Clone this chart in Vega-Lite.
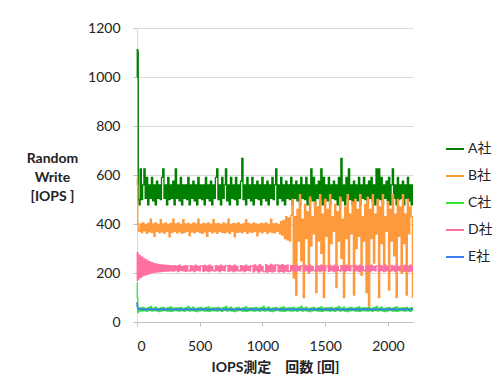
{
 "$schema": "https://vega.github.io/schema/vega-lite/v6.json",
 "width": 276, "height": 294,
 "autosize": {"type": "none"},
 "padding": {"left": 137, "top": 28, "right": 79, "bottom": 63},
 "background": "white",
 "config": {"view": {"stroke": null}, "font": "Lato, Noto Sans CJK JP"},
 "data": {"values": [
{"x":0,"A":1000,"B":590,"C":160,"D":285,"E":80},
{"x":4,"A":1112,"B":560,"C":100,"D":170,"E":62},
{"x":8,"A":1105,"B":400,"C":38,"D":280,"E":55},
{"x":12,"A":500,"B":375,"C":42,"D":175,"E":53},
{"x":20,"A":478,"B":370,"C":46,"D":272,"E":55},
{"x":30,"A":625,"B":400,"C":58,"D":182,"E":52},
{"x":40,"A":500,"B":365,"C":44,"D":265,"E":53},
{"x":50,"A":560,"B":405,"C":60,"D":188,"E":51},
{"x":60,"A":625,"B":372,"C":47,"D":258,"E":52},
{"x":70,"A":505,"B":398,"C":56,"D":192,"E":50},
{"x":80,"A":590,"B":362,"C":43,"D":252,"E":51},
{"x":90,"A":478,"B":402,"C":59,"D":196,"E":53},
{"x":100,"A":560,"B":368,"C":48,"D":246,"E":50},
{"x":110,"A":505,"B":420,"C":64,"D":200,"E":52},
{"x":120,"A":590,"B":366,"C":45,"D":242,"E":52},
{"x":130,"A":495,"B":400,"C":57,"D":202,"E":50},
{"x":140,"A":560,"B":350,"C":47,"D":238,"E":53},
{"x":150,"A":478,"B":404,"C":61,"D":204,"E":51},
{"x":160,"A":575,"B":370,"C":44,"D":236,"E":52},
{"x":170,"A":505,"B":398,"C":55,"D":205,"E":50},
{"x":180,"A":560,"B":364,"C":42,"D":234,"E":51},
{"x":190,"A":500,"B":418,"C":58,"D":206,"E":53},
{"x":200,"A":590,"B":368,"C":46,"D":233,"E":50},
{"x":210,"A":625,"B":400,"C":60,"D":207,"E":52},
{"x":220,"A":505,"B":362,"C":48,"D":232,"E":52},
{"x":230,"A":560,"B":405,"C":56,"D":208,"E":50},
{"x":240,"A":478,"B":370,"C":44,"D":231,"E":53},
{"x":250,"A":590,"B":398,"C":59,"D":208,"E":51},
{"x":260,"A":500,"B":348,"C":45,"D":230,"E":52},
{"x":270,"A":560,"B":402,"C":62,"D":209,"E":50},
{"x":280,"A":505,"B":366,"C":43,"D":229,"E":51},
{"x":290,"A":575,"B":420,"C":57,"D":208,"E":53},
{"x":300,"A":478,"B":370,"C":47,"D":230,"E":50},
{"x":310,"A":625,"B":400,"C":58,"D":210,"E":52},
{"x":320,"A":505,"B":364,"C":46,"D":228,"E":52},
{"x":330,"A":560,"B":404,"C":58,"D":206,"E":50},
{"x":340,"A":495,"B":368,"C":44,"D":232,"E":53},
{"x":350,"A":590,"B":398,"C":60,"D":211,"E":51},
{"x":360,"A":478,"B":362,"C":47,"D":227,"E":52},
{"x":370,"A":560,"B":418,"C":56,"D":209,"E":50},
{"x":380,"A":505,"B":366,"C":43,"D":229,"E":51},
{"x":390,"A":560,"B":400,"C":59,"D":207,"E":53},
{"x":400,"A":500,"B":370,"C":48,"D":230,"E":50},
{"x":410,"A":590,"B":402,"C":64,"D":210,"E":52},
{"x":420,"A":478,"B":352,"C":45,"D":208,"E":52},
{"x":430,"A":560,"B":398,"C":57,"D":230,"E":50},
{"x":440,"A":505,"B":368,"C":47,"D":210,"E":53},
{"x":450,"A":575,"B":404,"C":61,"D":228,"E":51},
{"x":460,"A":495,"B":364,"C":44,"D":206,"E":52},
{"x":470,"A":560,"B":400,"C":55,"D":232,"E":50},
{"x":480,"A":478,"B":370,"C":42,"D":211,"E":51},
{"x":490,"A":590,"B":420,"C":58,"D":227,"E":53},
{"x":500,"A":505,"B":366,"C":46,"D":209,"E":50},
{"x":510,"A":560,"B":398,"C":60,"D":229,"E":52},
{"x":520,"A":500,"B":362,"C":48,"D":229,"E":52},
{"x":530,"A":560,"B":402,"C":56,"D":207,"E":50},
{"x":540,"A":478,"B":368,"C":44,"D":231,"E":53},
{"x":550,"A":590,"B":400,"C":59,"D":210,"E":51},
{"x":560,"A":505,"B":350,"C":45,"D":228,"E":52},
{"x":570,"A":560,"B":404,"C":62,"D":206,"E":50},
{"x":580,"A":495,"B":370,"C":43,"D":232,"E":51},
{"x":590,"A":575,"B":398,"C":57,"D":209,"E":53},
{"x":600,"A":478,"B":364,"C":47,"D":227,"E":50},
{"x":610,"A":560,"B":418,"C":58,"D":211,"E":52},
{"x":620,"A":505,"B":368,"C":46,"D":208,"E":52},
{"x":630,"A":590,"B":400,"C":58,"D":230,"E":50},
{"x":640,"A":625,"B":362,"C":44,"D":210,"E":53},
{"x":650,"A":500,"B":402,"C":60,"D":228,"E":51},
{"x":660,"A":560,"B":370,"C":47,"D":206,"E":52},
{"x":670,"A":478,"B":398,"C":56,"D":232,"E":50},
{"x":680,"A":590,"B":366,"C":43,"D":211,"E":51},
{"x":690,"A":505,"B":404,"C":59,"D":227,"E":53},
{"x":700,"A":560,"B":364,"C":48,"D":209,"E":50},
{"x":710,"A":625,"B":400,"C":64,"D":229,"E":52},
{"x":720,"A":495,"B":368,"C":45,"D":229,"E":52},
{"x":730,"A":560,"B":420,"C":57,"D":207,"E":50},
{"x":740,"A":478,"B":362,"C":47,"D":231,"E":53},
{"x":750,"A":590,"B":398,"C":61,"D":210,"E":51},
{"x":760,"A":505,"B":370,"C":44,"D":228,"E":52},
{"x":770,"A":560,"B":402,"C":55,"D":206,"E":50},
{"x":780,"A":500,"B":348,"C":42,"D":232,"E":51},
{"x":790,"A":590,"B":400,"C":58,"D":209,"E":53},
{"x":800,"A":478,"B":366,"C":46,"D":227,"E":50},
{"x":810,"A":560,"B":404,"C":60,"D":211,"E":52},
{"x":820,"A":505,"B":368,"C":48,"D":208,"E":52},
{"x":830,"A":575,"B":398,"C":56,"D":230,"E":50},
{"x":840,"A":668,"B":364,"C":44,"D":210,"E":53},
{"x":850,"A":500,"B":400,"C":59,"D":228,"E":51},
{"x":860,"A":560,"B":370,"C":45,"D":206,"E":52},
{"x":870,"A":478,"B":418,"C":62,"D":232,"E":50},
{"x":880,"A":590,"B":362,"C":43,"D":211,"E":51},
{"x":890,"A":505,"B":402,"C":57,"D":227,"E":53},
{"x":900,"A":560,"B":368,"C":47,"D":209,"E":50},
{"x":910,"A":495,"B":398,"C":58,"D":229,"E":52},
{"x":920,"A":590,"B":366,"C":46,"D":229,"E":52},
{"x":930,"A":478,"B":404,"C":58,"D":205,"E":50},
{"x":940,"A":560,"B":370,"C":44,"D":233,"E":53},
{"x":950,"A":505,"B":400,"C":60,"D":210,"E":51},
{"x":960,"A":575,"B":352,"C":47,"D":228,"E":52},
{"x":970,"A":500,"B":398,"C":56,"D":204,"E":50},
{"x":980,"A":560,"B":368,"C":43,"D":234,"E":51},
{"x":990,"A":478,"B":402,"C":59,"D":209,"E":53},
{"x":1000,"A":590,"B":364,"C":48,"D":227,"E":50},
{"x":1010,"A":505,"B":400,"C":64,"D":206,"E":52},
{"x":1020,"A":560,"B":370,"C":45,"D":206,"E":52},
{"x":1030,"A":495,"B":404,"C":57,"D":234,"E":50},
{"x":1040,"A":575,"B":362,"C":47,"D":204,"E":53},
{"x":1050,"A":478,"B":398,"C":61,"D":230,"E":51},
{"x":1060,"A":560,"B":368,"C":44,"D":207,"E":52},
{"x":1070,"A":505,"B":420,"C":55,"D":235,"E":50},
{"x":1080,"A":590,"B":366,"C":42,"D":205,"E":51},
{"x":1090,"A":500,"B":400,"C":58,"D":231,"E":53},
{"x":1100,"A":560,"B":364,"C":46,"D":208,"E":50},
{"x":1110,"A":625,"B":402,"C":60,"D":233,"E":52},
{"x":1120,"A":478,"B":370,"C":48,"D":233,"E":52},
{"x":1130,"A":560,"B":398,"C":56,"D":205,"E":50},
{"x":1140,"A":505,"B":360,"C":44,"D":231,"E":53},
{"x":1150,"A":590,"B":410,"C":59,"D":207,"E":51},
{"x":1160,"A":495,"B":355,"C":45,"D":234,"E":52},
{"x":1170,"A":560,"B":415,"C":62,"D":204,"E":50},
{"x":1180,"A":478,"B":340,"C":43,"D":230,"E":51},
{"x":1190,"A":575,"B":430,"C":57,"D":208,"E":53},
{"x":1200,"A":505,"B":335,"C":47,"D":232,"E":50},
{"x":1210,"A":560,"B":425,"C":58,"D":206,"E":52},
{"x":1220,"A":500,"B":330,"C":46,"D":208,"E":52},
{"x":1230,"A":590,"B":435,"C":58,"D":230,"E":50},
{"x":1240,"A":478,"B":500,"C":44,"D":210,"E":53},
{"x":1250,"A":560,"B":180,"C":60,"D":228,"E":51},
{"x":1260,"A":505,"B":430,"C":47,"D":206,"E":52},
{"x":1270,"A":575,"B":110,"C":56,"D":232,"E":50},
{"x":1280,"A":495,"B":460,"C":43,"D":211,"E":51},
{"x":1290,"A":560,"B":330,"C":59,"D":227,"E":53},
{"x":1300,"A":478,"B":520,"C":48,"D":209,"E":50},
{"x":1310,"A":590,"B":250,"C":64,"D":229,"E":52},
{"x":1320,"A":505,"B":420,"C":45,"D":229,"E":52},
{"x":1330,"A":560,"B":100,"C":57,"D":207,"E":50},
{"x":1340,"A":500,"B":480,"C":47,"D":231,"E":53},
{"x":1350,"A":590,"B":340,"C":61,"D":210,"E":51},
{"x":1360,"A":478,"B":450,"C":44,"D":228,"E":52},
{"x":1370,"A":560,"B":200,"C":55,"D":206,"E":50},
{"x":1380,"A":505,"B":510,"C":42,"D":232,"E":51},
{"x":1390,"A":625,"B":310,"C":58,"D":209,"E":53},
{"x":1400,"A":495,"B":430,"C":46,"D":227,"E":50},
{"x":1410,"A":590,"B":360,"C":60,"D":211,"E":52},
{"x":1420,"A":478,"B":490,"C":48,"D":208,"E":52},
{"x":1430,"A":560,"B":120,"C":56,"D":230,"E":50},
{"x":1440,"A":505,"B":470,"C":44,"D":210,"E":53},
{"x":1450,"A":575,"B":330,"C":59,"D":228,"E":51},
{"x":1460,"A":500,"B":520,"C":45,"D":206,"E":52},
{"x":1470,"A":625,"B":280,"C":62,"D":232,"E":50},
{"x":1480,"A":478,"B":440,"C":43,"D":211,"E":51},
{"x":1490,"A":590,"B":100,"C":57,"D":227,"E":53},
{"x":1500,"A":505,"B":500,"C":47,"D":209,"E":50},
{"x":1510,"A":560,"B":350,"C":58,"D":229,"E":52},
{"x":1520,"A":495,"B":460,"C":46,"D":229,"E":52},
{"x":1530,"A":590,"B":220,"C":58,"D":207,"E":50},
{"x":1540,"A":478,"B":520,"C":44,"D":231,"E":53},
{"x":1550,"A":560,"B":320,"C":60,"D":210,"E":51},
{"x":1560,"A":505,"B":430,"C":47,"D":228,"E":52},
{"x":1570,"A":575,"B":370,"C":56,"D":206,"E":50},
{"x":1580,"A":500,"B":480,"C":43,"D":232,"E":51},
{"x":1590,"A":560,"B":140,"C":59,"D":209,"E":53},
{"x":1600,"A":478,"B":450,"C":48,"D":227,"E":50},
{"x":1610,"A":590,"B":330,"C":64,"D":211,"E":52},
{"x":1620,"A":505,"B":510,"C":45,"D":208,"E":52},
{"x":1630,"A":668,"B":260,"C":57,"D":230,"E":50},
{"x":1640,"A":495,"B":420,"C":47,"D":210,"E":53},
{"x":1650,"A":560,"B":100,"C":61,"D":228,"E":51},
{"x":1660,"A":478,"B":470,"C":44,"D":206,"E":52},
{"x":1670,"A":590,"B":340,"C":55,"D":232,"E":50},
{"x":1680,"A":505,"B":520,"C":42,"D":211,"E":51},
{"x":1690,"A":625,"B":230,"C":58,"D":227,"E":53},
{"x":1700,"A":500,"B":440,"C":46,"D":209,"E":50},
{"x":1710,"A":560,"B":360,"C":60,"D":229,"E":52},
{"x":1720,"A":478,"B":490,"C":48,"D":229,"E":52},
{"x":1730,"A":575,"B":110,"C":56,"D":207,"E":50},
{"x":1740,"A":505,"B":500,"C":44,"D":231,"E":53},
{"x":1750,"A":560,"B":300,"C":59,"D":210,"E":51},
{"x":1760,"A":495,"B":460,"C":45,"D":228,"E":52},
{"x":1770,"A":590,"B":350,"C":62,"D":206,"E":50},
{"x":1780,"A":478,"B":520,"C":43,"D":232,"E":51},
{"x":1790,"A":560,"B":190,"C":57,"D":209,"E":53},
{"x":1800,"A":505,"B":430,"C":47,"D":227,"E":50},
{"x":1810,"A":590,"B":330,"C":58,"D":211,"E":52},
{"x":1820,"A":500,"B":480,"C":46,"D":208,"E":52},
{"x":1830,"A":560,"B":120,"C":58,"D":230,"E":50},
{"x":1840,"A":478,"B":510,"C":44,"D":210,"E":53},
{"x":1850,"A":575,"B":65,"C":60,"D":228,"E":51},
{"x":1860,"A":505,"B":460,"C":47,"D":206,"E":52},
{"x":1870,"A":590,"B":340,"C":56,"D":232,"E":50},
{"x":1880,"A":495,"B":520,"C":43,"D":211,"E":51},
{"x":1890,"A":560,"B":240,"C":59,"D":227,"E":53},
{"x":1900,"A":478,"B":440,"C":48,"D":209,"E":50},
{"x":1910,"A":625,"B":360,"C":64,"D":229,"E":52},
{"x":1920,"A":505,"B":500,"C":45,"D":229,"E":52},
{"x":1930,"A":625,"B":100,"C":57,"D":207,"E":50},
{"x":1940,"A":500,"B":470,"C":47,"D":231,"E":53},
{"x":1950,"A":590,"B":320,"C":61,"D":210,"E":51},
{"x":1960,"A":478,"B":520,"C":44,"D":228,"E":52},
{"x":1970,"A":560,"B":210,"C":55,"D":206,"E":50},
{"x":1980,"A":505,"B":430,"C":42,"D":232,"E":51},
{"x":1990,"A":575,"B":370,"C":58,"D":209,"E":53},
{"x":2000,"A":495,"B":490,"C":46,"D":227,"E":50},
{"x":2010,"A":590,"B":130,"C":60,"D":211,"E":52},
{"x":2020,"A":478,"B":460,"C":48,"D":208,"E":52},
{"x":2030,"A":560,"B":330,"C":56,"D":230,"E":50},
{"x":2040,"A":625,"B":520,"C":44,"D":210,"E":53},
{"x":2050,"A":505,"B":270,"C":59,"D":228,"E":51},
{"x":2060,"A":560,"B":440,"C":45,"D":206,"E":52},
{"x":2070,"A":478,"B":100,"C":62,"D":232,"E":50},
{"x":2080,"A":590,"B":500,"C":43,"D":211,"E":51},
{"x":2090,"A":500,"B":350,"C":57,"D":227,"E":53},
{"x":2100,"A":560,"B":470,"C":47,"D":209,"E":50},
{"x":2110,"A":505,"B":200,"C":58,"D":229,"E":52},
{"x":2120,"A":575,"B":520,"C":46,"D":229,"E":52},
{"x":2130,"A":478,"B":320,"C":58,"D":207,"E":50},
{"x":2140,"A":560,"B":440,"C":44,"D":231,"E":53},
{"x":2150,"A":505,"B":110,"C":60,"D":210,"E":51},
{"x":2160,"A":590,"B":500,"C":47,"D":228,"E":52},
{"x":2170,"A":495,"B":360,"C":56,"D":206,"E":50},
{"x":2180,"A":560,"B":470,"C":43,"D":232,"E":51},
{"x":2190,"A":478,"B":430,"C":59,"D":209,"E":53},
{"x":2200,"A":560,"B":100,"C":48,"D":227,"E":50}
 ]},
 "transform": [{"fold": ["A", "B", "C", "D", "E"], "as": ["series", "value"]}],
 "encoding": {
  "x": {"field": "x", "type": "quantitative",
   "scale": {"domain": [0, 2200], "nice": false, "zero": false},
   "axis": {"values": [0, 500, 1000, 1500, 2000], "format": "d", "grid": false, "title": "IOPS測定　回数 [回]",
    "domainColor": "#bfbfbf", "tickColor": "#bfbfbf", "tickSize": 4, "labelFontSize": 14, "labelColor": "#222222",
    "labelPadding": 13, "titleFontSize": 14, "titleFontWeight": "bold", "titleColor": "#222222", "titlePadding": 7}},
  "y": {"field": "value", "type": "quantitative",
   "scale": {"domain": [0, 1200], "nice": false},
   "axis": {"values": [0, 200, 400, 600, 800, 1000, 1200], "format": "d", "title": ["Random", "Write", "[IOPS ]"],
    "titleAngle": 0, "titleX": -85, "titleY": 123, "titleAlign": "center", "titleBaseline": "top", "titleLineHeight": 19,
    "titleFontSize": 14, "titleFontWeight": "bold", "titleColor": "#222222",
    "gridColor": "#d9d9d9", "domainColor": "#d9d9d9", "tickColor": "#bfbfbf", "tickSize": 4,
    "labelFontSize": 14, "labelColor": "#222222", "labelPadding": 13}},
  "color": {"field": "series", "type": "nominal",
   "scale": {"domain": ["A", "B", "C", "D", "E"], "range": ["#008000", "#ff9a3c", "#33e633", "#ff6f9f", "#3a7ff0"]},
   "legend": {"title": null, "orient": "none", "legendX": 308, "legendY": 111, "symbolType": "stroke", "symbolSize": 324,
    "symbolStrokeWidth": 2, "labelExpr": "datum.label + '社'", "labelFontSize": 14, "labelColor": "#222222", "rowPadding": 10, "labelOffset": 3}}
 },
 "layer": [
  {"transform": [{"filter": "datum.series === 'A'"}], "mark": {"type": "line", "strokeWidth": 1.3, "interpolate": "step"}},
  {"transform": [{"filter": "datum.series === 'B'"}], "mark": {"type": "line", "strokeWidth": 1.3, "interpolate": "step"}},
  {"transform": [{"filter": "datum.series === 'C'"}], "mark": {"type": "line", "strokeWidth": 1.3, "interpolate": "step"}},
  {"transform": [{"filter": "datum.series === 'D'"}], "mark": {"type": "line", "strokeWidth": 1.3, "interpolate": "step"}},
  {"transform": [{"filter": "datum.series === 'E'"}], "mark": {"type": "line", "strokeWidth": 1.8}}
 ]
}
